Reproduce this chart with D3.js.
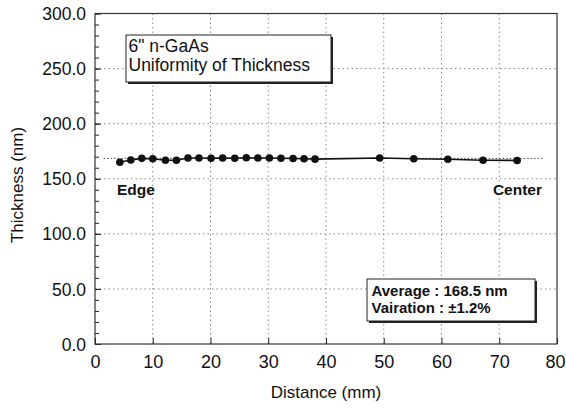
<!DOCTYPE html>
<html>
<head>
<meta charset="utf-8">
<script src="https://cdn.jsdelivr.net/npm/d3@7"></script>
<style>
  body { margin: 0; background: #fff; }
  text { font-family: Arial, "Liberation Sans", sans-serif; fill: #111; }
</style>
</head>
<body>
<svg id="chart" width="566" height="408"></svg>
<script>
const distance = [4.3, 6.2, 8.1, 10.0, 12.2, 14.1, 16.1, 18.0, 20.1, 22.1, 24.2, 26.2,
  28.2, 30.2, 32.2, 34.3, 36.2, 38.1, 49.3, 55.2, 61.1, 67.2, 73.1];
const thickness = [165.0, 167.0, 168.5, 168.2, 166.8, 166.8, 168.8, 168.8, 168.6, 168.8,
  168.6, 169.0, 168.8, 168.8, 168.6, 168.4, 168.2, 167.8, 168.8, 168.2, 167.7, 166.8, 166.6];
const xTicks = [0, 10, 20, 30, 40, 50, 60, 70, 80];
const yTicks = [0, 50, 100, 150, 200, 250, 300];
const average = 168.5;
const titleLines = ['6"  n-GaAs', 'Uniformity of Thickness'];
const statLines = ['Average : 168.5 nm', 'Vairation : \u00b11.2%'];

const svg = d3.select('#chart');
const pLeft = 95, pRight = 557, pTop = 13.5, pBottom = 344;

const x = d3.scaleLinear().domain([0, 80]).range([pLeft, pRight]);
const y = d3.scaleLinear().domain([0, 300]).range([pBottom, pTop]);

// dotted grid
const grid = svg.append('g');
grid.selectAll('line.gx')
  .data(xTicks.slice(1, -1))
  .join('line')
  .attr('x1', d => x(d)).attr('x2', d => x(d))
  .attr('y1', pTop).attr('y2', pBottom)
  .attr('stroke', '#888').attr('stroke-width', 1)
  .attr('stroke-dasharray', '1.5,3');
grid.selectAll('line.gy')
  .data(yTicks.slice(1, -1))
  .join('line')
  .attr('x1', pLeft).attr('x2', pRight)
  .attr('y1', d => y(d)).attr('y2', d => y(d))
  .attr('stroke', '#888').attr('stroke-width', 1)
  .attr('stroke-dasharray', '1.5,3');

// axes (ticks inside)
svg.append('g')
  .attr('transform', `translate(0,${pBottom})`)
  .call(d3.axisBottom(x).tickValues(xTicks).tickSizeInner(-6).tickSizeOuter(0).tickPadding(10))
  .call(g => g.select('.domain').remove())
  .call(g => g.selectAll('text').attr('font-size', 18).attr('dy', '0.75em'))
  .call(g => g.selectAll('text').filter(d => d === 80).attr('text-anchor', 'end').attr('x', 8))
  .call(g => g.selectAll('line').attr('stroke', '#222'));

svg.append('g')
  .attr('transform', `translate(${pLeft},0)`)
  .call(d3.axisLeft(y).ticks(30).tickSize(-4).tickFormat(''))
  .call(g => g.select('.domain').remove())
  .call(g => g.selectAll('line').attr('stroke', '#222'));

svg.append('g')
  .attr('transform', `translate(${pLeft},0)`)
  .call(d3.axisLeft(y).tickValues(yTicks).tickSize(-6).tickPadding(9).tickFormat(d3.format('.1f')))
  .call(g => g.select('.domain').remove())
  .call(g => g.selectAll('text').attr('font-size', 17.5).attr('dy', '0.35em'))
  .call(g => g.selectAll('line').attr('stroke', '#222'));

// frame
svg.append('rect')
  .attr('x', pLeft).attr('y', pTop)
  .attr('width', pRight - pLeft).attr('height', pBottom - pTop)
  .attr('fill', 'none').attr('stroke', '#333').attr('stroke-width', 1.2);

// average line (dotted) behind data
svg.append('line')
  .attr('x1', x(1.5)).attr('x2', x(77.6))
  .attr('y1', y(average)).attr('y2', y(average))
  .attr('stroke', '#444').attr('stroke-dasharray', '1.5,2');

const pts = distance.map((d, i) => [d, thickness[i]]);
svg.append('path')
  .datum(pts)
  .attr('fill', 'none').attr('stroke', '#111').attr('stroke-width', 1.6)
  .attr('d', d3.line().x(d => x(d[0])).y(d => y(d[1])));
svg.append('g').selectAll('circle')
  .data(pts)
  .join('circle')
  .attr('cx', d => x(d[0])).attr('cy', d => y(d[1]))
  .attr('r', 3.8).attr('fill', '#111');

// labels
svg.append('text').attr('x', 117).attr('y', 195)
  .attr('font-size', 15.5).attr('font-weight', 'bold').text('Edge');
svg.append('text').attr('x', 542).attr('y', 195).attr('text-anchor', 'end')
  .attr('font-size', 15.5).attr('font-weight', 'bold').text('Center');

// text boxes with shadow
const drawBox = (bx, by, bw, bh, lines, size, weight, lineH, pad) => {
  const g = svg.append('g');
  g.append('rect').attr('x', bx + 2).attr('y', by + 2).attr('width', bw).attr('height', bh)
    .attr('fill', '#222');
  g.append('rect').attr('x', bx).attr('y', by).attr('width', bw).attr('height', bh)
    .attr('fill', '#fff').attr('stroke', '#222').attr('stroke-width', 1);
  g.selectAll('text')
    .data(lines)
    .join('text')
    .attr('x', bx + pad)
    .attr('y', (d, i) => by + pad + size * 0.8 + i * lineH)
    .attr('font-size', size).attr('font-weight', weight)
    .text(d => d);
};
drawBox(126, 35, 205, 47, titleLines, 17.5, 'normal', 19, 2.5);
drawBox(367, 279, 168, 42, statLines, 15, 'bold', 17, 4.5);

// axis titles
svg.append('text')
  .attr('transform', 'translate(23,185) rotate(-90)')
  .attr('text-anchor', 'middle').attr('font-size', 17).text('Thickness (nm)');
svg.append('text')
  .attr('x', (pLeft + pRight) / 2).attr('y', 398)
  .attr('text-anchor', 'middle').attr('font-size', 17).text('Distance (mm)');
</script>
</body>
</html>
